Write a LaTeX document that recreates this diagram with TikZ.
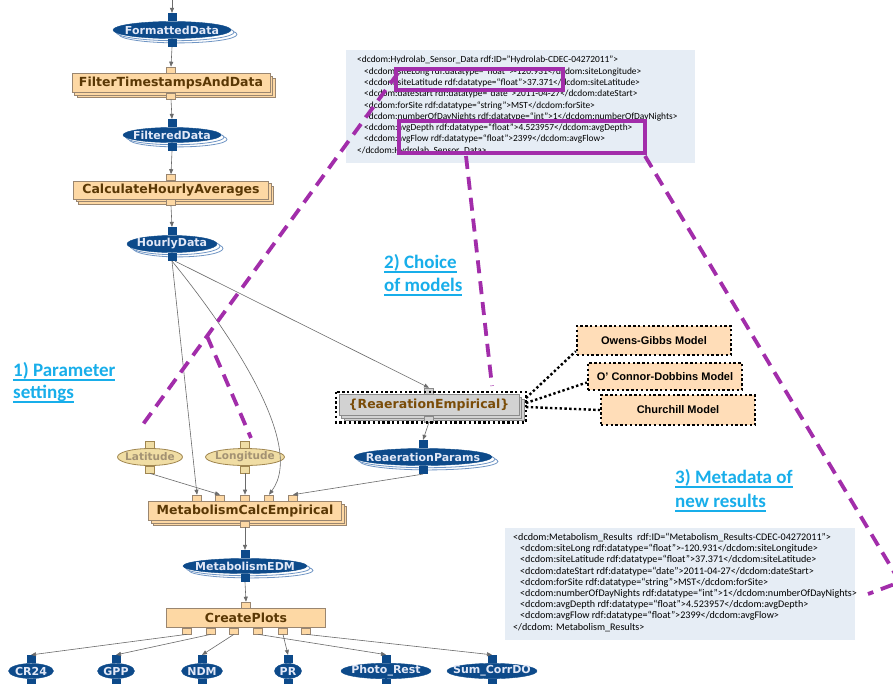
\documentclass[tikz,border=0pt]{standalone}
\usepackage{fontspec}
\setmainfont{Carlito}
\newfontfamily\dvs{DejaVu Sans}
\newfontfamily\lsans{Liberation Sans}
\usetikzlibrary{shapes.geometric,shadows,arrows.meta}
\definecolor{dblue}{HTML}{0D4A8A}
\definecolor{sblue}{HTML}{6F95C4}
\definecolor{etext}{HTML}{E2E8F7}
\definecolor{bfill}{HTML}{FDD8A4}
\definecolor{bdraw}{HTML}{9A8670}
\definecolor{btext}{HTML}{5A3805}
\definecolor{kfill}{HTML}{F0DDA4}
\definecolor{kdraw}{HTML}{A08650}
\definecolor{ktext}{HTML}{A39273}
\definecolor{gfill}{HTML}{D2D2D2}
\definecolor{gdraw}{HTML}{8A8A8A}
\definecolor{rtext}{HTML}{7A4C08}
\definecolor{mfill}{HTML}{FFDDB8}
\definecolor{purp}{HTML}{A22DAA}
\definecolor{cyanl}{HTML}{18AEEA}
\definecolor{xfill}{HTML}{E6EDF5}
\definecolor{agray}{HTML}{6B6B6B}
\newcommand\myul[1]{\setbox0\hbox{#1}\rlap{\rule[-5pt]{\wd0}{1.6pt}}\box0}
\newcommand\dports[1]{%
  \node[dport, anchor=south] (#1In) at (#1.north) {};
  \node[dport, anchor=north] (#1Out) at (#1.south) {};}
\newcommand\bports[1]{%
  \node[bport, anchor=south] (#1In) at (#1.north) {};
  \node[bport, anchor=north] (#1Out) at (#1.south) {};}
\tikzset{
 dataell/.style={ellipse, fill=dblue, draw=dblue, text=etext, font=\dvs\bfseries\fontsize{11}{12}\selectfont, inner sep=0pt},
 datash/.style={dataell, double copy shadow={shadow xshift=3pt, shadow yshift=-2.2pt, fill=white, draw=sblue, line width=0.8pt}},
 dport/.style={rectangle, fill=dblue, draw=none, minimum width=9pt, minimum height=8pt, inner sep=0pt},
 procbox/.style={rectangle, fill=bfill, draw=bdraw, line width=0.6pt, text=btext, font=\dvs\bfseries\fontsize{12.5}{14}\selectfont, inner sep=0pt},
 procsh/.style={procbox, double copy shadow={shadow xshift=2.5pt, shadow yshift=-2.5pt, fill=bfill, draw=bdraw}},
 bport/.style={rectangle, fill=bfill, draw=bdraw, line width=0.5pt, minimum width=9pt, minimum height=6pt, inner sep=0pt},
 paramell/.style={ellipse, fill=kfill, draw=kdraw, line width=0.8pt, text=ktext, font=\dvs\bfseries\fontsize{10.5}{12}\selectfont, inner sep=0pt},
 kport/.style={bport, fill=kfill, draw=kdraw},
 gport/.style={bport, fill=gfill, draw=gdraw},
 flow/.style={draw=agray, line width=0.6pt, -{Triangle[length=5pt,width=4pt]}},
 dotln/.style={draw=black, line width=2.4pt, dash pattern=on 2.4pt off 2.4pt},
 modelbox/.style={rectangle, fill=mfill, dotln, font=\lsans\bfseries\fontsize{11}{13}\selectfont, inner sep=0pt},
 pdash/.style={draw=purp, line width=3.8pt, dash pattern=on 13pt off 8pt},
 pbox/.style={draw=purp, line width=3.4pt},
 xmlbox/.style={fill=xfill, draw=none, inner sep=0pt, anchor=north west},
 xmltext/.style={align=left, inner sep=0pt, anchor=north west, text=black},
 steplabel/.style={text=cyanl, font=\bfseries\fontsize{19}{22}\selectfont, inner sep=0pt, anchor=base west},
}
\begin{document}
\begin{tikzpicture}[x=1pt,y=-1pt]
\useasboundingbox (0,0) rectangle (893,683);
\fill[white] (0,0) rectangle (893,683);
\clip (0,0) rectangle (893,683);

% ---------- XML boxes ----------
\node[xmlbox, minimum width=349pt, minimum height=113pt] (xml1) at (346,50) {};
\node[xmltext, font=\fontsize{9.4}{11.3}\selectfont] (xml1t) at (357,56) {%
<dcdom:Hydrolab\_Sensor\_Data rdf:ID="Hydrolab-CDEC-04272011">\\
\hspace*{7pt}<dcdom:siteLong rdf:datatype=“float”>-120.931</dcdom:siteLongitude>\\
\hspace*{7pt}<dcdom:siteLatitude rdf:datatype=“float”>37.371</dcdom:siteLatitude>\\
\hspace*{7pt}<dcdom:dateStart rdf:datatype=“date”>2011-04-27</dcdom:dateStart>\\
\hspace*{7pt}<dcdom:forSite rdf:datatype=“string”>MST</dcdom:forSite>\\
\hspace*{7pt}<dcdom:numberOfDayNights rdf:datatype=“int”>1</dcdom:numberOfDayNights>\\
\hspace*{7pt}<dcdom:avgDepth rdf:datatype=“float”>4.523957</dcdom:avgDepth>\\
\hspace*{7pt}<dcdom:avgFlow rdf:datatype=“float”>2399</dcdom:avgFlow>\\
</dcdom:Hydrolab\_Sensor\_Data>};

\node[xmlbox, minimum width=350pt, minimum height=112pt] (xml2) at (505,528) {};
\node[xmltext, font=\fontsize{10.1}{11.2}\selectfont] (xml2t) at (513,533) {%
<dcdom:Metabolism\_Results\ \ rdf:ID=“Metabolism\_Results-CDEC-04272011”>\\
\hspace*{7pt}<dcdom:siteLong rdf:datatype=“float”>-120.931</dcdom:siteLongitude>\\
\hspace*{7pt}<dcdom:siteLatitude rdf:datatype=“float”>37.371</dcdom:siteLatitude>\\
\hspace*{7pt}<dcdom:dateStart rdf:datatype=“date”>2011-04-27</dcdom:dateStart>\\
\hspace*{7pt}<dcdom:forSite rdf:datatype=“string”>MST</dcdom:forSite>\\
\hspace*{7pt}<dcdom:numberOfDayNights rdf:datatype=“int”>1</dcdom:numberOfDayNights>\\
\hspace*{7pt}<dcdom:avgDepth rdf:datatype=“float”>4.523957</dcdom:avgDepth>\\
\hspace*{7pt}<dcdom:avgFlow rdf:datatype=“float”>2399</dcdom:avgFlow>\\
</dcdom: Metabolism\_Results>};

% ---------- workflow chain ----------
\coordinate (topc) at (172,-3);
\node[datash, minimum width=118pt, minimum height=17pt] (fd) at (172,30) {\makebox[0pt]{FormattedData}};
\dports{fd}
\node[procsh, minimum width=198pt, minimum height=19pt] (ft) at (171,83) {FilterTimestampsAndData};
\bports{ft}
\node[datash, minimum width=98pt, minimum height=15pt] (fl) at (172,135) {\makebox[0pt]{FilteredData}};
\dports{fl}
\node[procsh, minimum width=195pt, minimum height=18pt] (ch) at (171,190) {CalculateHourlyAverages};
\bports{ch}
\node[datash, minimum width=90pt, minimum height=17pt] (hd) at (172,244) {\makebox[0pt]{HourlyData}};
\dports{hd}

\node[procbox, fill=gfill, draw=gdraw, text=rtext,
  double copy shadow={shadow xshift=2.5pt, shadow yshift=-2.5pt, fill=gfill, draw=gdraw},
  minimum width=180pt, minimum height=21pt] (re) at (429,405) {\{ReaerationEmpirical\}};
\node[gport, anchor=south] (reIn) at (re.north) {};
\node[gport, anchor=north] (reOut) at (re.south) {};
\draw[dotln] ([xshift=-2.5pt,yshift=2.5pt]re.north west) rectangle ([xshift=6.5pt,yshift=-6.5pt]re.south east);

\node[datash, minimum width=138pt, minimum height=17pt] (rp) at (423,457) {\makebox[0pt]{ReaerationParams}};
\dports{rp}

\node[paramell, minimum width=65pt, minimum height=17pt] (la) at (150,457) {\makebox[0pt]{Latitude}};
\node[kport, minimum height=7pt, anchor=south] (laIn) at (la.north) {};
\node[kport, minimum height=7pt, anchor=north] (laOut) at (la.south) {};
\node[paramell, minimum width=79pt, minimum height=17pt] (lo) at (245,457) {\makebox[0pt]{Longitude}};
\node[kport, minimum height=7pt, anchor=south] (loIn) at (lo.north) {};
\node[kport, minimum height=7pt, anchor=north] (loOut) at (lo.south) {};

\node[procsh, minimum width=193pt, minimum height=19pt] (mc) at (245,511) {MetabolismCalcEmpirical};
\node[bport, anchor=south] (mcIn1) at ([xshift=-48pt]mc.north) {};
\node[bport, anchor=south] (mcIn2) at ([xshift=-25pt]mc.north) {};
\node[bport, anchor=south] (mcIn3) at (mc.north) {};
\node[bport, anchor=south] (mcIn4) at ([xshift=24pt]mc.north) {};
\node[bport, anchor=south] (mcIn5) at ([xshift=48pt]mc.north) {};
\node[bport, anchor=north] (mcOut) at (mc.south) {};

\node[datash, minimum width=124pt, minimum height=15pt] (me) at (245,566) {\makebox[0pt]{MetabolismEDM}};
\dports{me}

\node[procbox, minimum width=159pt, minimum height=19pt] (cp) at (246,618) {CreatePlots};
\node[bport, anchor=south] (cpIn) at (cp.north) {};
\node[bport, anchor=north] (cpO1) at ([xshift=-59pt]cp.south) {};
\node[bport, anchor=north] (cpO2) at ([xshift=-35pt]cp.south) {};
\node[bport, anchor=north] (cpO3) at ([xshift=-12pt]cp.south) {};
\node[bport, anchor=north] (cpO4) at ([xshift=12pt]cp.south) {};
\node[bport, anchor=north] (cpO5) at ([xshift=37pt]cp.south) {};
\node[bport, anchor=north] (cpO6) at ([xshift=60pt]cp.south) {};

\node[dataell, minimum width=45pt, minimum height=15pt] (cr) at (31,671) {\makebox[0pt]{CR24}};
\dports{cr}
\node[dataell, minimum width=37pt, minimum height=15pt] (gp) at (116,671) {\makebox[0pt]{GPP}};
\dports{gp}
\node[dataell, minimum width=41pt, minimum height=15pt] (nd) at (202,671) {\makebox[0pt]{NDM}};
\dports{nd}
\node[dataell, minimum width=27pt, minimum height=15pt] (pr) at (288,671) {\makebox[0pt]{PR}};
\dports{pr}
\node[dataell, minimum width=90pt, minimum height=15pt] (ph) at (386,671) {\makebox[0pt]{Photo\_Rest}};
\dports{ph}
\node[dataell, minimum width=90pt, minimum height=15pt] (sc) at (492,671) {\makebox[0pt]{Sum\_CorrDO}};
\dports{sc}

% ---------- connectors ----------
\draw[flow] (topc) -- (fdIn.north);
\draw[flow] (fdOut.south) -- (ftIn.north);
\draw[flow] (ftOut.south) -- (flIn.north);
\draw[flow] (flOut.south) -- (chIn.north);
\draw[flow] (chOut.south) -- (hdIn.north);
\draw[flow] (hdOut.south) -- (mcIn1.north);
\draw[flow] (hdOut.south) .. controls (220,320) and (308,442) .. (mcIn4.north);
\draw[flow] ([xshift=3pt]hdOut.south) -- (reIn.north);
\draw[flow] (laOut.south) -- (mcIn2.north);
\draw[flow] (loOut.south) -- (mcIn3.north);
\draw[flow] (rpOut.south) -- (mcIn5.north);
\draw[flow] (reOut.south) -- (rpIn.north);
\draw[flow] (mcOut.south) -- (meIn.north);
\draw[flow] (meOut.south) -- (cpIn.north);
\draw[flow] (cpO1.south) -- (crIn.north);
\draw[flow] (cpO2.south) -- (gpIn.north);
\draw[flow] (cpO3.south) -- (ndIn.north);
\draw[flow] (cpO4.south) -- (phIn.north);
\draw[flow] (cpO5.south) -- (prIn.north);
\draw[flow] (cpO6.south) -- (scIn.north);

% ---------- models ----------
\node[modelbox, minimum width=154pt, minimum height=29pt] (og) at (654,340.5) {Owens-Gibbs Model};
\node[modelbox, minimum width=154pt, minimum height=27pt] (oc) at (665,376.5) {O’ Connor-Dobbins Model};
\node[modelbox, minimum width=154pt, minimum height=30pt] (cm) at (678,410) {Churchill Model};
\coordinate (reR1) at (526,398);
\coordinate (reR2) at (526,403);
\coordinate (reR3) at (526,407);
\draw[dotln] (reR1) -- ([yshift=5pt]og.south west);
\draw[dotln] (reR2) -- ([yshift=-6pt]oc.west);
\draw[dotln] (reR3) -- (cm.west);

% ---------- labels ----------
\node[steplabel] (l1a) at (13,376) {\myul{1) Parameter}};
\node[steplabel] (l1b) at (13,398) {\myul{settings}};
\node[steplabel] (l2a) at (384,268) {\myul{2) Choice}};
\node[steplabel] (l2b) at (384,291) {\myul{of models}};
\node[steplabel] (l3a) at (675,483) {\myul{3) Metadata of}};
\node[steplabel] (l3b) at (675,507) {\myul{new results}};

% ---------- purple highlights ----------
\draw[pbox] (396,69) rectangle (563,90);
\draw[pbox] (399,121) rectangle (645,153);
\coordinate (pa1) at (398,73);
\coordinate (pa2) at (141,427);
\coordinate (pb1) at (207,336);
\coordinate (pb2) at (251,438);
\coordinate (pc1) at (466,156);
\coordinate (pc2) at (492,386);
\coordinate (pd1) at (645,156);
\coordinate (pd2) at (900,582);
\coordinate (pd3) at (868,594);
\draw[pdash] (pa1) -- (pa2);
\draw[pdash] (pb1) -- (pb2);
\draw[pdash] (pc1) -- (pc2);
\draw[pdash] (pd1) -- (pd2) -- (pd3);
\end{tikzpicture}
\end{document}
